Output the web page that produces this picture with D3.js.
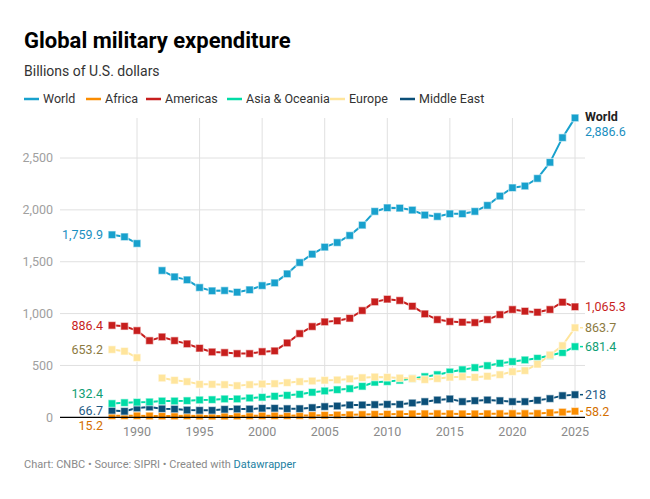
<!DOCTYPE html>
<html>
<head>
<meta charset="utf-8">
<script src="https://cdn.jsdelivr.net/npm/d3@7"></script>
<style>
  body { margin: 0; background: #fff; font-family: Roboto, "Noto Sans", sans-serif; }
</style>
</head>
<body>
<div id="wrapper"></div>
<script>
const years = d3.range(1988, 2026);

// billions of U.S. dollars, null = no data
const world = [1759.9, 1740, 1676, null, 1415, 1354, 1325, 1251, 1219, 1222, 1206, 1229, 1270, 1296,
  1383, 1492, 1573, 1641, 1685, 1753, 1853, 1985, 2020, 2017, 1998, 1950, 1936, 1962, 1962, 1985,
  2043, 2133, 2213, 2230, 2303, 2458, 2696, 2886.6];
const africa = [15.2, 15, 15, 13, 13, 13, 14, 12, 12, 12, 13, 14, 15, 15, 16, 17, 18, 20, 22, 24,
  27, 29, 30, 32, 33, 34, 35, 34, 33, 33, 34, 35, 36, 36, 37, 44, 50, 58.2];
const americas = [886.4, 878, 836, 739, 775, 739, 708, 666, 630, 624, 614, 614, 633, 640, 717, 807,
  875, 920, 930, 955, 1029, 1113, 1139, 1126, 1071, 997, 942, 923, 917, 913, 942, 990, 1039, 1023,
  1013, 1039, 1110, 1065.3];
const asia = [132.4, 141, 145, 148, 157, 157, 160, 167, 170, 177, 177, 186, 193, 203, 212, 222, 241,
  254, 266, 276, 299, 338, 344, 357, 373, 392, 411, 437, 459, 479, 498, 521, 537, 553, 569, 595,
  624, 681.4];
const europe = [653.2, 637, 575, null, 379, 357, 344, 318, 318, 315, 305, 315, 321, 324, 334, 344,
  350, 357, 360, 370, 382, 389, 386, 379, 373, 363, 373, 386, 392, 386, 396, 411, 440, 450, 512,
  601, 691, 863.7];
const middleEast = [66.7, 58, 90, 99, 83, 80, 70, 67, 67, 77, 80, 80, 87, 87, 83, 83, 93, 103, 109,
  119, 119, 122, 125, 125, 138, 151, 167, 177, 151, 160, 167, 160, 151, 151, 164, 180, 209, 218];

const seriesNames = ["World", "Africa", "Americas", "Asia & Oceania", "Europe", "Middle East"];
const seriesValues = [world, africa, americas, asia, europe, middleEast];

const yTicks = [0, 500, 1000, 1500, 2000, 2500];
const xTicks = [1990, 1995, 2000, 2005, 2010, 2015, 2020, 2025];

// styling per series
const colors = ["#18a1cd", "#fa8c00", "#c71e1d", "#00dca6", "#ffe59c", "#0b4f78"];
const labelColors = ["#1a8fbf", "#d46f00", "#c71e1d", "#0f9e74", "#8c7a3f", "#1f5a85"];
const leftDy = [0, 10, 0, -10, 0, 0];
const rightDy = [14, 0, 0, 0, 0, 0];

const width = 650, height = 499;
const svg = d3.select("#wrapper").append("svg")
  .attr("width", width).attr("height", height);

const fmt = d3.format(",");

// header
svg.append("text").attr("x", 24).attr("y", 48)
  .style("font-size", "22px").style("font-weight", 700).attr("fill", "#000")
  .text("Global military expenditure");
svg.append("text").attr("x", 24).attr("y", 76)
  .style("font-size", "14px").attr("fill", "#333")
  .text("Billions of U.S. dollars");

// legend
const legendX = [24, 86, 146, 227, 330, 400];
const legend = svg.append("g");
seriesNames.forEach((name, i) => {
  const g = legend.append("g").attr("transform", `translate(${legendX[i]},99)`);
  g.append("line").attr("x1", 0).attr("x2", 15).attr("stroke", colors[i]).attr("stroke-width", 2.5);
  g.append("text").attr("x", 19).attr("dy", "0.35em")
    .style("font-size", "12.5px").attr("fill", "#333").text(name);
});

// scales
const x = d3.scaleLinear().domain([1990, 2025]).range([137, 575]);
const y = d3.scaleLinear().domain([0, 2500]).range([417.3, 158]);
const plotLeft = 60, plotRight = 585, plotTop = 118;

// grid
svg.append("g").selectAll("line").data(yTicks.filter(d => d > 0)).join("line")
  .attr("x1", plotLeft).attr("x2", plotRight)
  .attr("y1", d => y(d)).attr("y2", d => y(d))
  .attr("stroke", "#e0e0e0").attr("stroke-width", 1);
svg.append("g").selectAll("line").data(xTicks).join("line")
  .attr("x1", d => x(d)).attr("x2", d => x(d))
  .attr("y1", plotTop).attr("y2", y(0))
  .attr("stroke", "#e0e0e0").attr("stroke-width", 1);

// axis labels
svg.append("g").selectAll("text").data(yTicks).join("text")
  .attr("x", 53).attr("y", d => y(d)).attr("dy", "0.35em")
  .attr("text-anchor", "end").style("font-size", "12.5px").attr("fill", "#a0a0a0")
  .text(d => fmt(d));
svg.append("g").selectAll("text").data(xTicks).join("text")
  .attr("x", d => x(d)).attr("y", 432).attr("dy", "0.35em")
  .attr("text-anchor", "middle").style("font-size", "12.5px").attr("fill", "#8a8a8a")
  .text(d => d);

// draw series (world last so it sits on top)
const order = [1, 5, 3, 4, 2, 0];
const line = d3.line()
  .defined(d => d.v != null)
  .x(d => x(d.year)).y(d => y(d.v));

order.forEach(i => {
  const pts = years.map((year, k) => ({ year, v: seriesValues[i][k] }));
  const g = svg.append("g");
  g.append("path").datum(pts)
    .attr("d", line).attr("fill", "none")
    .attr("stroke", colors[i]).attr("stroke-width", 2)
    .attr("stroke-linejoin", "round");
  g.selectAll("rect").data(pts.filter(d => d.v != null)).join("rect")
    .attr("x", d => x(d.year) - 3.8).attr("y", d => y(d.v) - 3.8)
    .attr("width", 7.6).attr("height", 7.6)
    .attr("fill", colors[i])
    .attr("stroke", "rgba(255,255,255,0.55)").attr("stroke-width", 1.2);
});

// baseline
svg.append("line").attr("x1", plotLeft).attr("x2", plotRight)
  .attr("y1", y(0)).attr("y2", y(0)).attr("stroke", "#000").attr("stroke-width", 1.2);

// start labels
seriesValues.forEach((vals, i) => {
  svg.append("text")
    .attr("x", x(years[0]) - 9).attr("y", y(vals[0]) + leftDy[i]).attr("dy", "0.35em")
    .attr("text-anchor", "end").style("font-size", "12.5px").attr("fill", labelColors[i])
    .text(fmt(vals[0]));
});

// end labels
const last = years.length - 1;
seriesValues.forEach((vals, i) => {
  const ly = y(vals[last]) + rightDy[i];
  if (i !== 0 && i !== 2) {
    svg.append("line").attr("x1", x(2025) + 5).attr("x2", x(2025) + 8)
      .attr("y1", ly).attr("y2", ly).attr("stroke", colors[i]).attr("stroke-width", 1.5);
  }
  svg.append("text")
    .attr("x", x(2025) + 10).attr("y", ly).attr("dy", "0.35em")
    .style("font-size", "12.5px").attr("fill", labelColors[i])
    .text(fmt(vals[last]));
});
svg.append("text")
  .attr("x", x(2025) + 10).attr("y", y(world[last]) - 1).attr("dy", "0.35em")
  .style("font-size", "12.5px").style("font-weight", 700).attr("fill", "#222")
  .text("World");

// footer
const foot = svg.append("text").attr("x", 24).attr("y", 464).attr("dy", "0.35em")
  .style("font-size", "11px").attr("fill", "#8a8a8a");
foot.append("tspan").text("Chart: CNBC • Source: SIPRI • Created with ");
foot.append("tspan").attr("fill", "#1d81a2").text("Datawrapper");
</script>
</body>
</html>
